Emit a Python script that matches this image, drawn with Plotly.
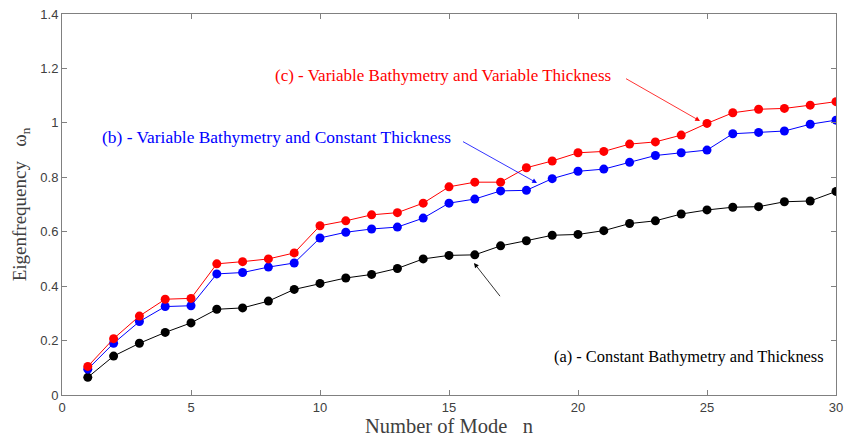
import plotly.graph_objects as go

modes = list(range(1, 31))
const_both = [0.065, 0.143, 0.19, 0.23, 0.265, 0.315, 0.32, 0.345, 0.388, 0.41,
              0.43, 0.443, 0.465, 0.5, 0.513, 0.515, 0.548, 0.567, 0.587, 0.59,
              0.604, 0.63, 0.64, 0.665, 0.68, 0.69, 0.692, 0.71, 0.713, 0.748]
var_bath_const_thick = [0.095, 0.19, 0.27, 0.325, 0.328, 0.445, 0.45, 0.47, 0.485, 0.577,
                        0.598, 0.61, 0.617, 0.65, 0.705, 0.72, 0.75, 0.752, 0.795, 0.822,
                        0.83, 0.855, 0.88, 0.89, 0.9, 0.96, 0.965, 0.97, 0.995, 1.01]
var_both = [0.105, 0.207, 0.29, 0.352, 0.355, 0.482, 0.49, 0.5, 0.522, 0.622,
            0.64, 0.662, 0.67, 0.705, 0.765, 0.782, 0.782, 0.835, 0.86, 0.89,
            0.895, 0.922, 0.93, 0.955, 0.998, 1.037, 1.05, 1.053, 1.065, 1.078]
labels = ["(a) - Constant Bathymetry and Thickness",
          "(b) - Variable Bathymetry and Constant Thickness",
          "(c) - Variable Bathymetry and Variable Thickness"]

fig = go.Figure()
for ys, col in [(const_both, "black"), (var_bath_const_thick, "blue"), (var_both, "red")]:
    fig.add_trace(go.Scatter(x=modes, y=ys, mode="lines+markers",
                             line=dict(color=col, width=1),
                             marker=dict(color=col, size=9), showlegend=False))

serif = "Liberation Serif, Times New Roman, serif"

def px2x(p):
    return (p - 62) / 25.8

def px2y(p):
    return (395 - p) / 272.1

# arrows (head location, tail pixel location)
arrows = [
    ("red", px2x(700), px2y(121), 623, 77),
    ("blue", px2x(537), px2y(183), 460, 140),
    ("black", px2x(474), px2y(263), 503, 300),
]
for col, hx, hy, tx, ty in arrows:
    fig.add_annotation(x=hx, y=hy, ax=px2x(tx), ay=px2y(ty),
                       axref="x", ayref="y", xref="x", yref="y", text=" ",
                       showarrow=True, arrowhead=2, arrowsize=1.2, arrowwidth=0.8,
                       arrowcolor=col, standoff=0)

fig.add_annotation(x=px2x(613), y=px2y(76), xref="x", yref="y", text=labels[2],
                   showarrow=False, xanchor="right", yanchor="middle",
                   font=dict(family=serif, size=17, color="red"))
fig.add_annotation(x=px2x(453), y=px2y(137), xref="x", yref="y", text=labels[1],
                   showarrow=False, xanchor="right", yanchor="middle",
                   font=dict(family=serif, size=17.4, color="blue"))
fig.add_annotation(x=px2x(552), y=px2y(357), xref="x", yref="y", text=labels[0],
                   showarrow=False, xanchor="left", yanchor="middle",
                   font=dict(family=serif, size=16.4, color="black"))

axis_common = dict(showline=True, linecolor="#808080", linewidth=1, mirror="ticks",
                   ticks="inside", ticklen=5, tickcolor="#808080", showgrid=False,
                   zeroline=False, automargin=False,
                   tickfont=dict(family="Arial, Liberation Sans, sans-serif",
                                 size=13, color="#404040"))
fig.update_xaxes(range=[0, 30], dtick=5, **axis_common,
                 title=dict(text="Number of Mode   n", font=dict(family=serif, size=20.5, color="#404040"),
                            standoff=4))
fig.update_yaxes(range=[0, 1.4], dtick=0.2, **axis_common,
                 title=dict(text="Eigenfrequency   ω<sub>n</sub>",
                            font=dict(family=serif, size=19, color="#404040"), standoff=8))
fig.update_layout(width=844, height=438, margin=dict(l=62, r=8, t=14, b=43),
                  plot_bgcolor="white", paper_bgcolor="white")
fig.write_html("out.html")
